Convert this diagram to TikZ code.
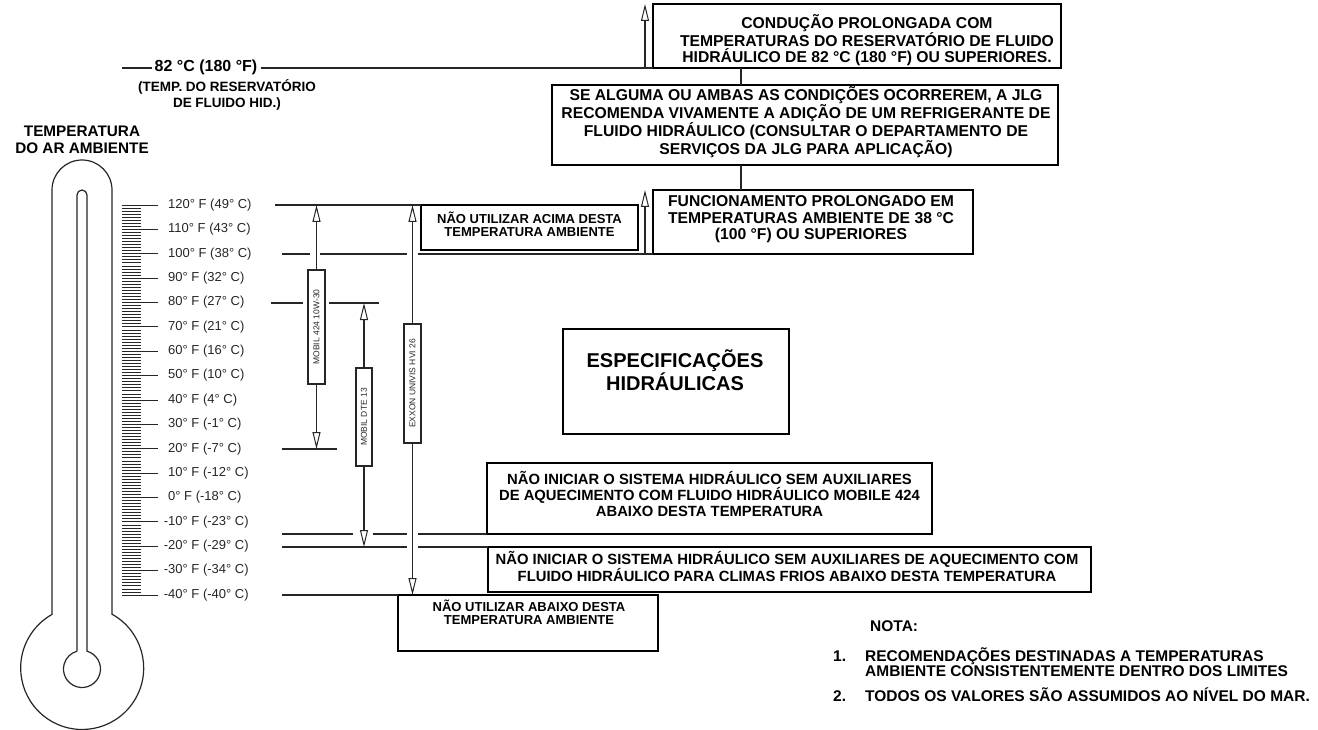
\documentclass[tikz,border=0pt]{standalone}
\usepackage{fontspec}
\setmainfont{Liberation Sans}
\usetikzlibrary{arrows.meta}
\begin{document}
\begin{tikzpicture}[x=1pt,y=-1pt,
  ln/.style={draw=black!85, line width=1.1pt},
  thermo/.style={draw=black!85, line width=1.2pt},
  bx/.style={draw=black, line width=1.8pt, inner sep=0pt, outer sep=0pt},
  lblbox/.style={draw=black!85, line width=1.1pt, inner sep=0pt, outer sep=0pt, rotate=90,
     font=\fontsize{8.5}{9}\selectfont, text=black!85},
  arr/.style={ln, -{Triangle[open, length=17pt, width=8pt, line width=1pt]}},
  btxt/.style={font=\bfseries\fontsize{15.7}{16.5}\selectfont, align=center, inner sep=0pt},
  mtxt/.style={font=\bfseries\fontsize{14.8}{16}\selectfont, align=center, inner sep=0pt},
  stxt/.style={font=\bfseries\fontsize{13}{13.3}\selectfont, align=center, inner sep=0pt},
  ntxt/.style={font=\bfseries\fontsize{15.5}{16}\selectfont, anchor=base west, inner sep=0pt},
  ticklbl/.style={font=\fontsize{13}{14}\selectfont, anchor=west, inner sep=0pt, text=black!85},
  tick/.style={draw=black!85, line width=0.8pt}
]
\useasboundingbox (0,0) rectangle (1318,730);

% ---------- thermometer ----------
\draw[thermo] (52,614.2) -- (52,190) arc[start angle=180, end angle=360, radius=30]
   -- (112,614.2) arc[start angle=-61, end angle=241, radius=61.5];
\draw[thermo] (77,651.2) -- (77,195) arc[start angle=180, end angle=360, radius=5]
   -- (87,651.2) arc[start angle=-74.3, end angle=254.3, radius=18.5];

% ticks
\foreach \k in {0,...,16} \draw[tick] (122,{205+24.375*\k}) -- (158,{205+24.375*\k});
\foreach \k in {0,...,15} \foreach \j in {1,...,7}
  \draw[tick] (122,{205+24.375*\k+3.047*\j}) -- (141,{205+24.375*\k+3.047*\j});

% tick labels
\foreach \k/\t in {0/{120° F (49° C)},1/{110° F (43° C)},2/{100° F (38° C)},3/{90° F (32° C)},
  4/{80° F (27° C)},5/{70° F (21° C)},6/{60° F (16° C)},7/{50° F (10° C)},8/{40° F (4° C)},
  9/{30° F (-1° C)},10/{20° F (-7° C)},11/{10° F (-12° C)},12/{0° F (-18° C)},
  13/{\llap{-}10° F (-23° C)},14/{\llap{-}20° F (-29° C)},15/{\llap{-}30° F (-34° C)},16/{\llap{-}40° F (-40° C)}}
  \node[ticklbl] (tl\k) at (168,{205+24.375*\k}) {\t};

% ---------- upper-left labels ----------
\node[font=\bfseries\fontsize{16}{16}\selectfont, inner sep=0pt] (t82) at (206,67) {82 °C (180 °F)};
\node[font=\bfseries\fontsize{13.5}{16.5}\selectfont, align=center, inner sep=0pt] (tres) at (227,95)
  {(TEMP. DO RESERVATÓRIO\\DE FLUIDO HID.)};
\node[font=\bfseries\fontsize{15.3}{16.5}\selectfont, align=center, inner sep=0pt] (tamb) at (82,140)
  {TEMPERATURA\\DO AR AMBIENTE};

% ---------- boxes ----------
\node[bx, minimum width=408pt, minimum height=64pt] (b1) at (857,36) {};
\node[btxt] (t1) at (867,40) {CONDUÇÃO PROLONGADA COM\\TEMPERATURAS DO RESERVATÓRIO DE FLUIDO\\HIDRÁULICO DE 82 °C (180 °F) OU SUPERIORES.};

\node[bx, minimum width=506pt, minimum height=80pt] (b2) at (805,125) {};
\node[btxt] (t2) at (806,122) {SE ALGUMA OU AMBAS AS CONDIÇÕES OCORREREM, A JLG\\RECOMENDA VIVAMENTE A ADIÇÃO DE UM REFRIGERANTE DE\\FLUIDO HIDRÁULICO (CONSULTAR O DEPARTAMENTO DE\\SERVIÇOS DA JLG PARA APLICAÇÃO)};

\node[bx, minimum width=320pt, minimum height=64pt] (b3) at (813,222) {};
\node[btxt] (t3) at (811,219.5) {FUNCIONAMENTO PROLONGADO EM\\TEMPERATURAS AMBIENTE DE 38 °C\\(100 °F) OU SUPERIORES};

\node[bx, minimum width=217pt, minimum height=45pt] (bac) at (529.5,227.5) {};
\node[stxt] (tac) at (529.5,224) {NÃO UTILIZAR ACIMA DESTA\\TEMPERATURA AMBIENTE};

\node[bx, minimum width=226pt, minimum height=105pt] (bes) at (676,381.5) {};
\node[font=\bfseries\fontsize{20}{20}\selectfont, align=center, inner sep=0pt] (tes) at (675,370) {ESPECIFICAÇÕES\\HIDRÁULICAS};

\node[bx, minimum width=445pt, minimum height=71pt] (bm) at (709.5,498.5) {};
\node[mtxt] (tm) at (709.5,494) {NÃO INICIAR O SISTEMA HIDRÁULICO SEM AUXILIARES\\DE AQUECIMENTO COM FLUIDO HIDRÁULICO MOBILE 424\\ABAIXO DESTA TEMPERATURA};

\node[bx, minimum width=603pt, minimum height=45pt] (bc) at (789.5,569.5) {};
\node[mtxt] (tc) at (787,566) {NÃO INICIAR O SISTEMA HIDRÁULICO SEM AUXILIARES DE AQUECIMENTO COM\\FLUIDO HIDRÁULICO PARA CLIMAS FRIOS ABAIXO DESTA TEMPERATURA};

\node[bx, minimum width=260pt, minimum height=56pt] (bab) at (528,623) {};
\node[stxt] (tab) at (529,612.5) {NÃO UTILIZAR ABAIXO DESTA\\TEMPERATURA AMBIENTE};

% connectors between top boxes
\coordinate (vx) at (741,0);
\draw[ln] (b1.south -| vx) -- (b2.north -| vx);
\draw[ln] (b2.south -| vx) -- (b3.north -| vx);

% ---------- 82 C line and arrows ----------
\coordinate (l82a) at (122,68);
\coordinate (l82b) at (152,68);
\coordinate (l82c) at (261,68);
\coordinate (a82) at (645,68);
\coordinate (a82t) at (645,4);
\draw[ln] (l82a) -- (l82b);
\draw[ln] (l82c) -- (b1.south west);
\draw[arr] (a82) -- (a82t);

\coordinate (a100) at (645,254);
\coordinate (a100t) at (645,190);
\draw[arr] (a100) -- (a100t);

% ---------- temperature lines ----------
\draw[ln] (275,205) -- (bac.north west);
\draw[ln] (282,254) -- (310,254);
\draw[ln] (320,254) -- (407,254);
\draw[ln] (418,254) -- (b3.south west);
\draw[ln] (271,303) -- (303,303);
\draw[ln] (329,303) -- (379,303);
\draw[ln] (282,449) -- (337,449);
\draw[ln] (282,534) -- (353,534);
\draw[ln] (373,534) -- (407,534);
\draw[ln] (418,534) -- (bm.south west);
\draw[ln] (282,547) -- (407,547);
\draw[ln] (418,547) -- (bc.north west);
\draw[ln] (282,595) -- (bab.north west);

% ---------- oil bars ----------
\node[lblbox, minimum width=114pt, minimum height=17pt] (m424) at (316.5,327) {MOBIL 424 10W-30};
\coordinate (m424t) at (316.5,205);
\coordinate (m424b) at (316.5,449);
\draw[arr] (m424.east) -- (m424t);
\draw[arr] (m424.west) -- (m424b);

\node[lblbox, minimum width=98pt, minimum height=16pt] (dte) at (364,417) {MOBIL DTE 13};
\coordinate (dtet) at (364,303);
\coordinate (dteb) at (364,547);
\draw[arr] (dte.east) -- (dtet);
\draw[arr] (dte.west) -- (dteb);

\node[lblbox, minimum width=119pt, minimum height=17pt] (exx) at (412.5,383.5) {EXXON UNIVIS HVI 26};
\coordinate (exxt) at (412.5,205);
\coordinate (exxb) at (412.5,595);
\draw[arr] (exx.east) -- (exxt);
\draw[arr] (exx.west) -- (exxb);

% ---------- notes ----------
\node[ntxt] (nota) at (870,631) {NOTA:};
\node[ntxt] (n1) at (833,661) {\makebox[32pt][l]{1.}RECOMENDAÇÕES DESTINADAS A TEMPERATURAS};
\node[ntxt] (n1b) at (865,676) {AMBIENTE CONSISTENTEMENTE DENTRO DOS LIMITES};
\node[ntxt] (n2) at (833,701) {\makebox[32pt][l]{2.}TODOS OS VALORES SÃO ASSUMIDOS AO NÍVEL DO MAR.};
\end{tikzpicture}
\end{document}
